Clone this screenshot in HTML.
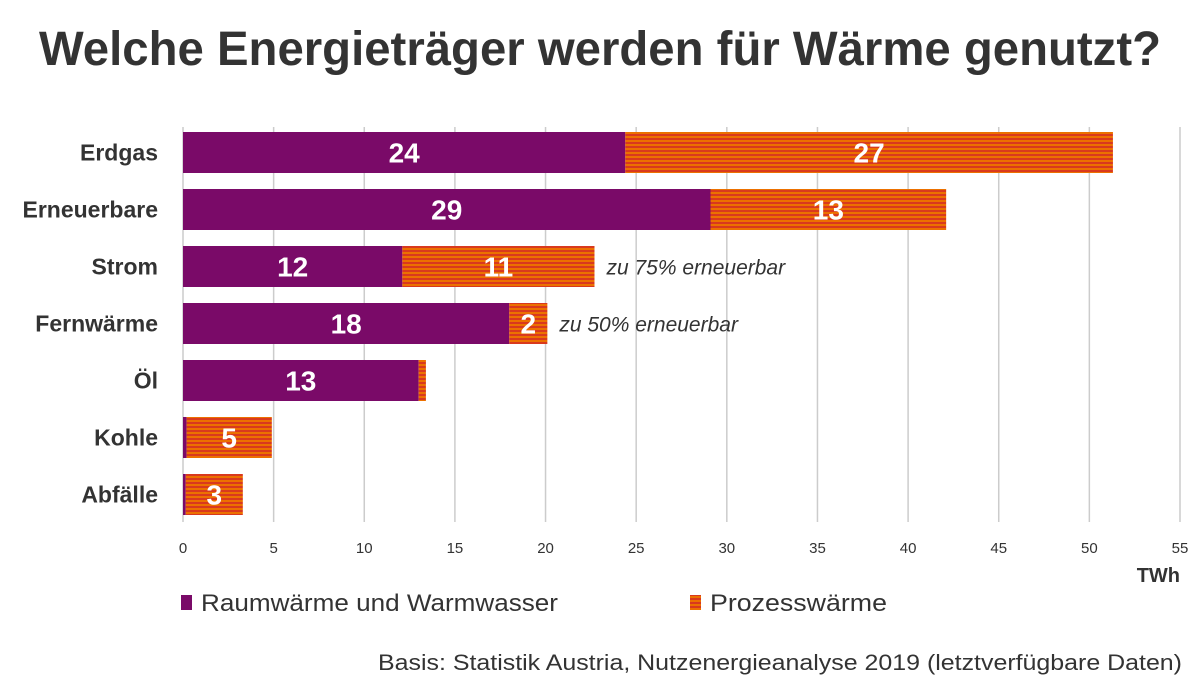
<!DOCTYPE html>
<html><head><meta charset="utf-8"><style>
html,body{margin:0;padding:0;background:#fff;}
svg{display:block;font-family:"Liberation Sans Narrow","Liberation Sans",sans-serif;}
</style></head><body>
<svg id="chart" width="1200" height="690" viewBox="0 0 1200 690" xmlns="http://www.w3.org/2000/svg">
<defs>
<pattern id="stripes" width="8" height="4" patternUnits="userSpaceOnUse">
<rect width="8" height="2" fill="#ec7100"/><rect y="2" width="8" height="2" fill="#d9391e"/>
</pattern>
</defs>
<text x="600" y="65" text-anchor="middle" font-size="48" font-weight="bold" fill="#333" textLength="1122" lengthAdjust="spacingAndGlyphs">Welche Energieträger werden für Wärme genutzt?</text>
<g id="grid"></g>
<g id="bars"></g>
<g id="ticks"></g>
<text x="1180" y="582" text-anchor="end" font-size="20" font-weight="bold" fill="#333">TWh</text>
<rect x="181" y="595" width="11" height="15" fill="#7a0a68"/>
<text x="201" y="611" font-size="24" fill="#333" textLength="357" lengthAdjust="spacingAndGlyphs">Raumwärme und Warmwasser</text>
<rect x="690" y="595" width="11" height="15" fill="url(#stripes)"/>
<text x="710" y="611" font-size="24" fill="#333" textLength="177" lengthAdjust="spacingAndGlyphs">Prozesswärme</text>
<text x="1182" y="670" text-anchor="end" font-size="22" fill="#333" textLength="804" lengthAdjust="spacingAndGlyphs">Basis: Statistik Austria, Nutzenergieanalyse 2019 (letztverfügbare Daten)</text>
</svg>
<script>
const categories = ["Erdgas","Erneuerbare","Strom","Fernwärme","Öl","Kohle","Abfälle"];
const raumwaerme = [24.4, 29.1, 12.1, 18.0, 13.0, 0.2, 0.15];
const prozesswaerme = [26.9, 13.0, 10.6, 2.1, 0.4, 4.7, 3.15];
const raumLabels = ["24","29","12","18","13","",""];
const prozessLabels = ["27","13","11","2","","5","3"];
const notes = ["","","zu 75% erneuerbar","zu 50% erneuerbar","","",""];
const ticks = [0,5,10,15,20,25,30,35,40,45,50,55];

const NS="http://www.w3.org/2000/svg";
const x0=183, x1=1180, xmax=55;
const xs=v=>x0+(v/xmax)*(x1-x0);
const rowTop=i=>132+i*57, barH=41;
function mk(tag,attrs,parent,txt){const e=document.createElementNS(NS,tag);for(const k in attrs)e.setAttribute(k,attrs[k]);if(txt!==undefined)e.textContent=txt;parent.appendChild(e);return e;}
const grid=document.getElementById('grid'), bars=document.getElementById('bars'), tk=document.getElementById('ticks'), svg=document.getElementById('chart');
ticks.forEach(t=>{
  const l=mk('line',{x1:xs(t),x2:xs(t),y1:127,y2:522,stroke:'#ccc','stroke-width':1.5},grid);
  
  
  const tx=mk('text',{x:xs(t),y:553,'text-anchor':'middle','font-size':15,fill:'#333'},tk,String(t));
  
  
});
categories.forEach((c,i)=>{
  const y=rowTop(i), cy=y+barH/2;
  const lab=mk('text',{x:158,y:cy+8,'text-anchor':'end','font-size':23,'font-weight':'bold',fill:'#333'},svg,c);
  
  
  const a=raumwaerme[i], b=prozesswaerme[i];
  const r1=mk('rect',{x:xs(0),y:y,width:xs(a)-xs(0),height:barH,fill:'#7a0a68'},bars);
  
  
  const r2=mk('rect',{x:xs(a),y:y,width:xs(a+b)-xs(a),height:barH,fill:'url(#stripes)'},bars);
  
  
  if(raumLabels[i]){const t=mk('text',{x:(xs(0)+xs(a))/2,y:cy+10,'text-anchor':'middle','font-size':28,'font-weight':'bold',fill:'#fff'},bars,raumLabels[i]);
    
    }
  if(prozessLabels[i]){const t=mk('text',{x:(xs(a)+xs(a+b))/2,y:cy+10,'text-anchor':'middle','font-size':28,'font-weight':'bold',fill:'#fff'},bars,prozessLabels[i]);
    
    }
  if(notes[i]){const t=mk('text',{x:xs(a+b)+12,y:cy+8,'font-size':21,'font-style':'italic',fill:'#333'},svg,notes[i]);
    
    }
});
</script>
</body></html>
